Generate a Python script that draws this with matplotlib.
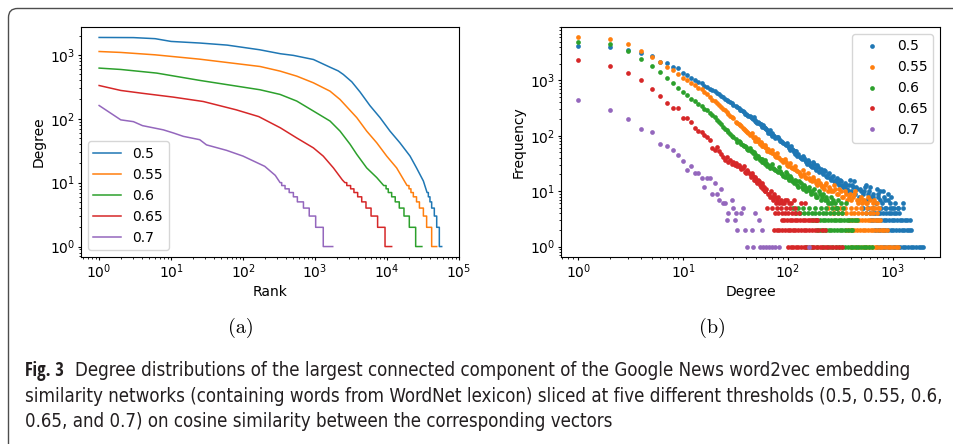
import matplotlib
matplotlib.use('Agg')
import matplotlib.pyplot as plt
from matplotlib import font_manager
from matplotlib.font_manager import FontProperties
from matplotlib.patches import FancyBboxPatch
from matplotlib.transforms import IdentityTransform

plt.rcParams['font.size'] = 10

labels = ['0.5', '0.55', '0.6', '0.65', '0.7']
colors = ['tab:blue', 'tab:orange', 'tab:green', 'tab:red', 'tab:purple']

####################################################
# (a) degree vs rank. Smooth upper part of every curve, then the
# staircase tail: rank where the degree drops to the next integer level.
a_rank_05 = [1, 3, 6, 10, 25, 60, 170, 330, 500, 950, 1615, 2100, 2470, 3240, 4220, 5800,
             8000, 11000, 15100, 20900, 25700, 32000, 36000]
a_deg_05 = [1870, 1860, 1790, 1620, 1530, 1420, 1200, 1040, 980, 845, 640, 560, 493, 378, 262, 160,
            104, 64, 42, 26, 17, 10.6, 7]
a_step_rank_05 = [37500, 39500, 41700, 45400, 49000, 53300]
a_step_deg_05 = [6, 5, 4, 3, 2, 1]
a_last_05 = 57500

a_rank_055 = [1, 2, 6, 25, 172, 327, 557, 948, 1615, 2225, 3800, 5220, 7200, 9900, 13600, 19000]
a_deg_055 = [1127, 1090, 1000, 855, 657, 556, 464, 365, 270, 200, 104, 64, 42, 26, 17, 9]
a_step_rank_055 = [20200, 21500, 23200, 25700, 28200, 32000, 35500, 41700]
a_step_deg_055 = [8, 7, 6, 5, 4, 3, 2, 1]
a_last_055 = 49000

a_rank_06 = [1, 2, 6.3, 25, 172, 327, 557, 948, 1615, 2225, 3060, 3800, 5220, 7200, 9000]
a_deg_06 = [620, 590, 518, 398, 284, 240, 189, 132, 92, 64, 40, 27.7, 17, 12, 9]
a_step_rank_06 = [9700, 10400, 11600, 13000, 14800, 17200, 20400, 25000]
a_step_deg_06 = [8, 7, 6, 5, 4, 3, 2, 1]
a_last_06 = 30500

a_rank_065 = [1, 2, 4, 10.7, 28, 80, 165, 330, 557, 948, 1300, 1800, 2400, 2600]
a_deg_065 = [331, 277, 250, 218, 186, 138, 108, 72, 50, 35, 26, 17, 11, 10]
a_step_rank_065 = [2760, 3120, 3470, 3910, 4450, 5100, 6000, 7400, 9380]
a_step_deg_065 = [9, 8, 7, 6, 5, 4, 3, 2, 1]
a_last_065 = 11600

a_rank_07 = [1, 2, 3, 4, 7.8, 10.7, 14.8, 25, 31, 59, 100, 200, 280, 327]
a_deg_07 = [161, 96, 90, 78, 67, 60, 53, 47, 39, 32, 26, 18, 13, 10]
a_step_rank_07 = [344, 383, 437, 500, 568, 690, 830, 1020, 1300]
a_step_deg_07 = [9, 8, 7, 6, 5, 4, 3, 2, 1]
a_last_07 = 1760

####################################################
# (b) frequency of each degree
b_head_deg = [1, 2, 3, 4, 5, 6, 7, 8, 9, 10, 11, 12, 13, 14, 15,
              16, 17, 18, 19, 20, 21, 22, 23, 24, 25, 26, 27, 28, 29, 30]
b_head_05 = [4100, 3990, 3550, 3060, 2770, 2180, 2040, 1760, 1640, 1370, 1240, 1110, 1030, 930, 880,
             800, 770, 700, 670, 630, 590, 565, 520, 495, 470, 440, 425, 400, 385, 365]
b_head_055 = [5950, 5540, 4450, 3370, 2660, 2160, 1740, 1510, 1300, 1120, 1000, 900, 820, 740, 690,
              620, 570, 510, 450, 420, 390, 360, 330, 310, 290, 270, 250, 232, 220, 205]
b_head_06 = [4900, 4560, 3320, 2420, 1830, 1430, 1090, 884, 728, 620, 540, 470, 420, 380, 340,
             310, 290, 260, 238, 215, 190, 175, 160, 145, 135, 125, 116, 108, 100, 95]
b_head_065 = [2290, 1830, 1370, 1000, 690, 527, 392, 321, 313, 207, 205, 175, 137, 122, 118,
              104, 96, 84, 60, 56, 62, 52, 47, 41, 37, 42, 34, 36, 31, 33]

b_cloud_05 = [
    (32, 350), (33, 335), (34, 318), (35, 296), (36, 292), (37, 285), (38, 265), (39, 252), (40, 248), (41, 236),
    (42, 232), (43, 228), (44, 214), (45, 205), (46, 198), (47, 215), (48, 192), (49, 186), (50, 180), (51, 172),
    (52, 178), (53, 168), (54, 160), (55, 164), (56, 152), (57, 146), (58, 155), (59, 142), (60, 138), (61, 136),
    (62, 130), (63, 125), (64, 122), (65, 112), (66, 118), (67, 114), (68, 126), (69, 108), (70, 112), (71, 100),
    (72, 104), (74, 98), (76, 90), (78, 94), (80, 95), (82, 86), (84, 82), (86, 80), (88, 78), (90, 74),
    (93, 70), (95, 68), (97, 74), (99, 64), (102, 60), (104, 56), (106, 64), (109, 58), (111, 55), (113, 50),
    (116, 46), (118, 54), (120, 52), (123, 44), (126, 47), (129, 42), (132, 40), (135, 38), (138, 44), (141, 39),
    (145, 37), (148, 33), (152, 31), (155, 36), (158, 34), (162, 30), (165, 29), (169, 27), (172, 33), (176, 31),
    (180, 26), (184, 24), (188, 30), (192, 27), (196, 22), (200, 23), (205, 25), (210, 22), (214, 20), (219, 24),
    (224, 23), (229, 19), (234, 18), (240, 20), (245, 21), (250, 17), (256, 16), (262, 18), (268, 19), (274, 15),
    (280, 14), (287, 16), (293, 17), (300, 14), (306, 13), (313, 16), (320, 15), (328, 13), (335, 12), (342, 12),
    (350, 14), (358, 13), (366, 11), (375, 10), (383, 13), (390, 16), (400, 10), (408, 13), (418, 12), (430, 15),
    (437, 9), (446, 12), (457, 11), (478, 8), (490, 11), (500, 10), (523, 9), (535, 10), (547, 12), (560, 13),
    (572, 7), (585, 9), (598, 10), (610, 12), (625, 8), (640, 8), (654, 9), (684, 6), (700, 11), (715, 8),
    (730, 9), (748, 7), (760, 10), (782, 6), (800, 10), (818, 8), (840, 7), (855, 5), (894, 7), (900, 9),
    (935, 6), (960, 8), (978, 5), (1050, 6), (1120, 5), (1250, 6),
]
b_cloud_055 = [
    (32, 180), (33, 170), (34, 164), (35, 157), (36, 148), (37, 140), (38, 133), (39, 126), (40, 120), (41, 116),
    (42, 110), (43, 104), (44, 106), (45, 112), (46, 96), (47, 92), (48, 94), (49, 82), (50, 86), (51, 80),
    (52, 88), (53, 78), (54, 72), (55, 76), (56, 70), (57, 66), (58, 64), (60, 62), (61, 68), (62, 60),
    (63, 54), (64, 57), (66, 52), (68, 51), (70, 48), (71, 55), (73, 46), (75, 44), (77, 42), (79, 48),
    (81, 42), (83, 40), (86, 37), (88, 36), (90, 34), (93, 38), (96, 33), (98, 30), (101, 29), (104, 32),
    (107, 27), (110, 26), (113, 25), (116, 28), (120, 24), (123, 23), (127, 22), (130, 20), (134, 19), (138, 24),
    (142, 20), (146, 18), (150, 17), (155, 21), (160, 17), (164, 16), (169, 15), (174, 18), (179, 16), (184, 14),
    (189, 13), (195, 16), (201, 14), (207, 13), (213, 12), (219, 11), (226, 13), (232, 14), (239, 10), (246, 12),
    (253, 11), (260, 10), (268, 10), (276, 13), (284, 11), (292, 9), (301, 9), (310, 11), (319, 10), (328, 8),
    (338, 8), (348, 10), (358, 9), (368, 7), (379, 8), (390, 9), (402, 7), (413, 8), (426, 9), (438, 10),
    (451, 7), (464, 6), (478, 7), (492, 8), (506, 6), (520, 7), (536, 7), (552, 6), (568, 6), (585, 8),
    (602, 7), (620, 5), (640, 6), (660, 7), (680, 5), (700, 6), (720, 5), (745, 5),
]
b_cloud_06 = [
    (32, 88), (33, 78), (34, 82), (35, 76), (36, 72), (37, 68), (38, 66), (39, 64), (40, 62), (41, 58),
    (42, 55), (43, 60), (44, 54), (45, 52), (46, 48), (47, 50), (48, 46), (49, 42), (50, 40), (51, 43),
    (52, 44), (53, 40), (54, 36), (55, 38), (56, 38), (57, 34), (58, 33), (59, 35), (60, 31), (61, 36),
    (62, 32), (63, 28), (64, 30), (66, 29), (67, 26), (68, 27), (70, 31), (72, 26), (74, 25), (76, 24),
    (78, 23), (80, 22), (82, 27), (84, 23), (86, 21), (88, 20), (90, 19), (93, 18), (95, 22), (97, 20),
    (100, 17), (103, 16), (105, 19), (107, 17), (110, 15), (113, 14), (116, 16), (119, 15), (122, 13), (125, 12),
    (128, 15), (132, 14), (135, 12), (139, 11), (142, 13), (146, 12), (150, 10), (154, 11), (158, 12), (162, 10),
    (167, 9), (171, 10), (176, 11), (181, 9), (186, 8), (191, 8), (196, 10), (201, 9), (207, 7), (212, 8),
    (218, 9), (224, 7), (230, 8), (236, 7), (243, 6), (249, 6), (256, 8), (263, 6), (270, 7), (278, 6),
    (285, 5), (292, 5), (300, 7), (318, 6), (336, 5), (355, 6),
]
b_cloud_065 = [
    (31, 30), (32, 32), (33, 28), (34, 30), (35, 27), (36, 25), (37, 26), (38, 28), (39, 22), (40, 21),
    (41, 24), (42, 22), (43, 20), (44, 18), (45, 21), (46, 19), (47, 16), (48, 17), (49, 18), (50, 15),
    (51, 14), (52, 16), (53, 15), (54, 13), (55, 12), (56, 14), (57, 13), (58, 11), (59, 12), (60, 10),
    (61, 10), (62, 11), (64, 9), (66, 9), (67, 8), (69, 10), (71, 8), (72, 7), (74, 9), (75, 8),
    (77, 6), (78, 7), (80, 8), (83, 6), (85, 7), (88, 6), (91, 6), (94, 7), (97, 7), (102, 6),
    (108, 6), (115, 7), (132, 6), (145, 6),
]
b_points_07 = [
    (1, 447), (2, 288), (3, 204), (4, 135), (5, 117), (6, 70), (7, 65), (8, 55), (9, 45), (10, 35),
    (11, 24), (12, 29), (13, 21), (14, 21), (15, 17), (16, 12), (17, 17), (18, 17), (19, 9), (20, 14),
    (21, 9), (22, 7), (23, 11), (24, 6), (25, 6), (26, 3), (27, 4), (29, 7), (30, 5), (31, 3),
    (32, 4), (33, 2), (36, 4), (37, 5), (39, 2), (41, 1), (45, 2), (46, 1), (48, 4), (53, 3),
    (54, 1), (57, 2), (58, 1), (62, 1), (66, 1), (70, 1), (76, 1), (82, 1), (158, 1),
]

# degrees that occur exactly 1, 2, 3, 4 and 5 times
b_bands_05 = [
    [700, 750, 800, 850, 900, 950, 1000, 1050, 1110, 1180, 1250, 1320, 1400, 1480, 1570, 1660, 1760, 1860, 1930],
    [680, 720, 760, 800, 850, 900, 955, 1010, 1070, 1140, 1210, 1280, 1360, 1430, 1480],
    [620, 650, 690, 730, 775, 820, 870, 920, 975, 1030, 1090, 1160, 1230, 1300, 1380, 1450],
    [560, 600, 640, 680, 720, 760, 810, 860, 910, 965, 1020, 1080, 1145],
    [520, 580, 640, 770, 850, 930, 1030, 1130, 1250],
]
b_bands_055 = [
    [400, 440, 480, 520, 560, 595, 630, 670, 710, 750, 795, 845, 895, 950, 1010, 1070, 1130],
    [360, 380, 405, 430, 455, 485, 515, 545, 580, 615, 650, 690, 735, 780, 825, 877],
    [380, 400, 425, 455, 480, 510, 540, 575, 610, 645, 685, 725, 760],
    [270, 300, 330, 360, 395, 430, 470, 510, 555, 600, 650, 700],
    [240, 275, 315, 350, 395, 445, 500, 565, 640],
]
b_bands_06 = [
    [150, 170, 190, 215, 240, 265, 290, 310, 330, 350, 372, 395, 418, 443, 470, 498, 528, 560, 595, 632],
    [190, 203, 216, 230, 245, 260, 276, 293, 311, 330, 350, 372, 395, 407],
    [170, 180, 191, 203, 215, 228, 242, 257, 272, 288, 305, 323, 342, 363, 385, 408, 432, 454],
    [120, 131, 142, 155, 168, 182, 198, 215, 233, 253, 275, 298, 327],
    [112, 125, 140, 160, 180, 205, 232, 262, 295],
]
b_bands_065 = [
    [100, 106, 112, 119, 126, 134, 142, 150, 159, 168, 178, 189, 200, 212, 225, 238, 252, 268, 285, 305, 327],
    [73, 78, 83, 88, 93, 99, 105, 111, 118, 125, 133, 141, 150, 160, 170, 182, 195, 210, 227],
    [87, 92, 98, 104, 110, 116, 123, 130, 138, 146, 155, 164, 174, 184, 189],
    [75, 81, 88, 94, 101, 109, 117, 127],
    [63, 70, 78, 86, 95, 105, 118],
]

caption_1 = ('Degree distributions of the largest connected component of the Google News '
             'word2vec embedding')
caption_2 = ('similarity networks (containing words from WordNet lexicon) sliced at five different '
             'thresholds (0.5, 0.55, 0.6,')
caption_3 = '0.65, and 0.7) on cosine similarity between the corresponding vectors'


def rank_line(rank, deg, step_rank, step_deg, last_rank):
    x, y = list(rank), list(deg)
    for r, d in zip(step_rank, step_deg):
        x += [r, r]
        y += [y[-1], d]
    x.append(last_rank)
    y.append(step_deg[-1])
    return x, y


def freq_points(head_deg, head_freq, cloud, bands):
    x = list(head_deg) + [d for d, f in cloud]
    y = list(head_freq) + [f for d, f in cloud]
    for times, degs in enumerate(bands, start=1):
        x += degs
        y += [times] * len(degs)
    return x, y


def caption_font(lo, hi):
    # narrow face for the caption if one is installed
    narrow = ('condensed', 'semi-condensed', 'extra-condensed')
    for fam in ['Liberation Sans Narrow', 'Noto Sans', 'Open Sans', 'DejaVu Sans']:
        for f in font_manager.fontManager.ttflist:
            w = f.weight if isinstance(f.weight, int) else 400
            if (f.name.startswith(fam) and f.style == 'normal' and lo <= w <= hi
                    and (f.stretch in narrow or 'Narrow' in f.name or 'Condensed' in f.name)):
                return FontProperties(fname=f.fname)
    return None


def fit_width(text, target_px, renderer):
    # scale the font so the text is target_px wide
    text.set_fontsize(13)
    text.set_fontsize(13 * target_px / text.get_window_extent(renderer).width)
    return text.get_fontsize()


fig = plt.figure(figsize=(9.54, 4.44), dpi=100)
ax1 = fig.add_axes([81 / 954, 1 - 257 / 444, 378 / 954, 230 / 444])
ax2 = fig.add_axes([561 / 954, 1 - 257 / 444, 379 / 954, 230 / 444])

# Rank plot
curves = [
    (a_rank_05, a_deg_05, a_step_rank_05, a_step_deg_05, a_last_05),
    (a_rank_055, a_deg_055, a_step_rank_055, a_step_deg_055, a_last_055),
    (a_rank_06, a_deg_06, a_step_rank_06, a_step_deg_06, a_last_06),
    (a_rank_065, a_deg_065, a_step_rank_065, a_step_deg_065, a_last_065),
    (a_rank_07, a_deg_07, a_step_rank_07, a_step_deg_07, a_last_07),
]
for (r, d, sr, sd, last), c, lab in zip(curves, colors, labels):
    x, y = rank_line(r, d, sr, sd, last)
    ax1.plot(x, y, color=c, lw=1.1, label=lab)
ax1.set_xscale('log')
ax1.set_yscale('log')
ax1.set_xlim(0.56, 1e5)
ax1.set_xlabel('Rank', labelpad=3)
ax1.set_ylabel('Degree', labelpad=3)
ax1.legend(loc='lower left')

# Degree distribution
series = [
    freq_points(b_head_deg, b_head_05, b_cloud_05, b_bands_05),
    freq_points(b_head_deg, b_head_055, b_cloud_055, b_bands_055),
    freq_points(b_head_deg, b_head_06, b_cloud_06, b_bands_06),
    freq_points(b_head_deg, b_head_065, b_cloud_065, b_bands_065),
    freq_points([], [], b_points_07, []),
]
for (x, y), c, lab in zip(series, colors, labels):
    ax2.plot(x, y, 'o', ms=3.4, mew=0, color=c, label=lab)
ax2.set_xscale('log')
ax2.set_yscale('log')
ax2.set_xlabel('Degree', labelpad=3)
ax2.set_ylabel('Frequency', labelpad=3)
ax2.legend(loc='upper right')

for ax in (ax1, ax2):
    ax.tick_params(which='major', length=2.2, pad=1.8)
    ax.tick_params(which='minor', length=1.3)

# sub-figure tags
fig.text(241 / 954, 1 - 328 / 444, '(a)', fontfamily='cmr10', fontsize=14.5, ha='center', va='center')
fig.text(712 / 954, 1 - 328 / 444, '(b)', fontfamily='cmr10', fontsize=14.5, ha='center', va='center')

# caption
cap_regular = caption_font(400, 400) or FontProperties(family='Roboto')
cap_bold = caption_font(600, 800) or FontProperties(family='Roboto', weight='bold')
cap_color = '#231f20'
renderer = fig.canvas.get_renderer()
x0 = 25 / 954
t2 = fig.text(x0, 1 - 402 / 444, caption_2, fontproperties=cap_regular, va='baseline', color=cap_color)
size = fit_width(t2, 916, renderer)
for text, base in [(caption_3, 427)]:
    fig.text(x0, 1 - base / 444, text, fontproperties=cap_regular, va='baseline',
             color=cap_color).set_fontsize(size)
tb = fig.text(x0, 1 - 376 / 444, 'Fig. 3', fontproperties=cap_bold, va='baseline', color=cap_color)
tb.set_fontsize(size)
wb = tb.get_window_extent(renderer).width
t1 = fig.text(x0 + (wb + 11) / 954, 1 - 376 / 444, caption_1, fontproperties=cap_regular,
              va='baseline', color=cap_color)
t1.set_fontsize(size)

# frame round the figure
frame = FancyBboxPatch((8.5, -40), 1000, 444 - 8.5 + 40, boxstyle='round,pad=0,rounding_size=9',
                       transform=IdentityTransform(), fill=False, edgecolor='#4d4d4d', lw=1.0)
fig.add_artist(frame)

fig.savefig('out.png', dpi=100)
